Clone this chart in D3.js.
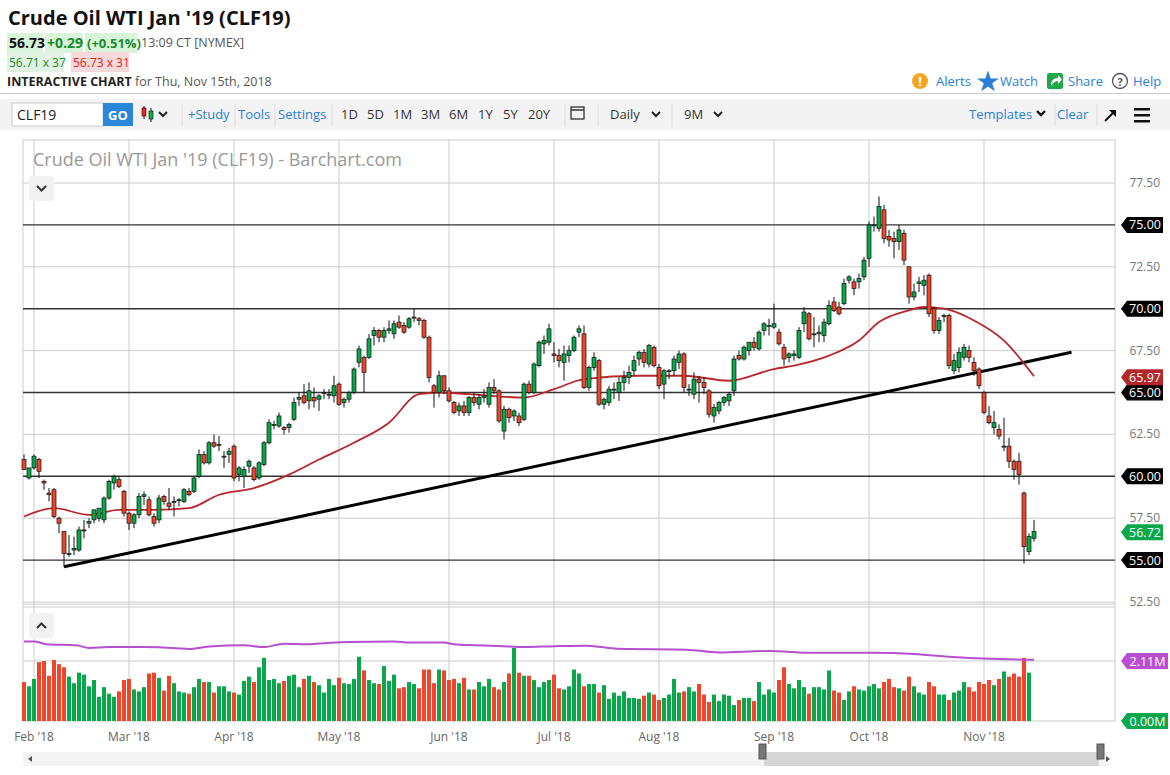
<!DOCTYPE html>
<html><head><meta charset="utf-8">
<script src="https://cdn.jsdelivr.net/npm/d3@7"></script>
<style>
body{margin:0;background:#fff;font-family:"Open Sans",sans-serif;}
svg{display:block}
</style></head><body>
<svg id="c" width="1170" height="775"></svg>
<script>
// ---- DATA ----
const candles = [
[61.0,61.3,60.4,60.4],[59.9,60.5,59.8,60.5],[60.5,61.3,60.4,61.2],[61.0,61.1,59.9,60.3],[59.7,59.8,59.2,59.6],
[59.0,59.3,58.5,58.9],[59.2,59.3,57.5,57.6],[57.5,57.6,56.6,57.2],[56.7,56.7,54.6,55.4],[55.4,56.5,55.2,55.4],
[55.6,56.4,55.3,55.7],[55.6,57.0,55.5,56.8],[56.8,57.4,56.3,56.8],[57.2,57.5,56.9,57.3],[57.4,58.0,57.2,58.0],
[57.5,58.1,57.3,58.1],[57.4,58.8,57.2,58.7],[58.7,59.8,58.6,59.7],[59.6,60.1,59.2,60.0],[59.8,60.0,59.3,59.4],
[59.1,59.2,57.6,57.8],[57.8,57.9,56.8,57.2],[57.2,57.8,56.9,57.7],[57.7,59.0,57.5,58.8],[58.8,59.1,58.3,58.9],
[58.6,58.8,57.6,57.7],[57.6,57.8,57.0,57.2],[57.4,58.9,57.2,58.7],[58.8,58.9,58.3,58.5],[58.4,59.3,58.0,58.2],
[58.5,58.8,57.6,58.5],[58.6,58.7,58.2,58.6],[58.5,59.3,58.4,59.2],[59.1,59.3,58.8,58.9],[59.1,60.0,59.0,59.9],
[60.0,61.6,59.9,61.3],[61.3,61.5,60.7,60.8],[60.8,62.1,60.7,62.0],[62.0,62.5,61.7,61.8],[61.9,62.4,61.5,61.9],
[61.2,61.5,60.5,61.2],[61.3,61.7,60.8,61.5],[61.8,61.9,59.7,59.9],[60.1,60.6,59.7,60.5],[60.0,60.6,59.3,60.4],
[60.6,61.0,60.2,60.9],[60.5,60.6,59.7,59.8],[59.9,60.9,59.8,60.8],[60.7,62.1,60.6,62.0],[62.0,63.4,61.9,63.2],
[63.1,63.3,62.8,63.1],[63.0,63.8,62.9,63.6],[62.9,63.0,62.5,62.8],[62.9,63.2,62.6,63.1],[63.4,64.7,63.3,64.4],
[64.6,65.0,64.2,64.7],[64.8,65.5,64.3,64.4],[64.5,65.6,64.0,65.1],[64.7,65.3,64.1,64.5],[64.6,64.9,63.9,64.8],
[65.0,65.2,64.6,65.0],[64.9,65.2,64.6,64.9],[64.8,66.0,64.4,65.4],[65.5,65.6,64.2,64.3],[64.4,64.7,64.1,64.6],
[64.6,65.1,64.4,65.0],[65.0,66.5,64.9,66.4],[66.8,67.8,66.5,67.6],[67.1,67.2,65.0,66.2],[67.1,68.5,67.0,68.2],
[68.4,68.9,67.8,68.7],[68.7,68.8,68.0,68.3],[68.3,68.9,68.0,68.7],[68.7,69.3,68.5,68.8],[68.5,69.3,68.2,69.1],
[69.2,69.6,68.8,68.9],[69.0,69.2,68.5,68.6],[68.9,69.5,68.8,69.4],[69.5,70.0,69.2,69.5],[69.4,69.5,69.0,69.3],
[69.3,69.4,68.2,68.3],[68.3,68.4,65.6,65.9],[65.4,65.5,64.1,65.0],[65.0,66.3,64.7,66.0],[66.0,66.0,64.9,65.1],
[65.1,65.3,64.4,64.5],[64.4,64.5,63.7,63.8],[63.9,64.4,63.6,64.2],[64.2,64.5,63.6,63.8],[63.8,64.8,63.6,64.7],
[64.7,65.0,64.2,64.4],[64.3,64.9,64.0,64.7],[64.7,65.2,64.4,64.8],[64.3,65.6,64.1,65.3],[65.3,65.8,64.9,65.1],
[65.1,65.2,63.2,63.3],[62.7,64.2,62.2,64.0],[64.0,64.1,63.2,63.5],[63.6,64.0,63.3,63.9],[63.6,63.8,63.0,63.2],
[63.4,65.6,63.3,65.5],[65.5,65.7,64.9,65.0],[65.0,66.8,64.9,66.7],[66.6,68.1,66.5,68.0],[67.9,68.4,67.3,68.1],
[68.0,69.1,67.8,68.8],[67.3,68.0,66.8,67.2],[67.2,67.6,66.5,66.9],[66.8,67.8,65.7,67.3],[67.2,67.8,66.8,67.5],
[67.5,68.4,67.4,68.3],[68.6,69.0,68.3,68.8],[68.5,69.0,65.2,65.3],[65.3,66.6,65.1,66.5],[66.5,67.4,66.3,67.1],
[66.9,67.0,64.2,64.3],[64.3,64.7,64.0,64.6],[64.4,65.4,64.2,65.2],[65.2,65.6,64.6,65.2],[65.0,65.9,64.5,65.6],
[65.6,66.3,65.1,65.9],[65.9,66.6,65.5,66.2],[66.3,67.2,66.0,66.9],[67.0,67.5,66.6,67.4],[67.4,67.6,66.5,66.8],
[66.7,67.9,66.5,67.8],[67.7,67.8,66.5,66.6],[66.5,66.7,65.2,65.4],[65.5,66.4,64.6,66.3],[66.3,66.4,65.8,66.3],
[66.3,67.2,66.0,67.0],[66.8,67.5,66.4,67.3],[67.3,67.4,65.0,65.3],[65.2,65.5,64.8,65.2],[64.9,66.2,64.6,65.8],
[65.8,66.0,64.4,65.6],[65.6,65.9,64.9,65.3],[65.1,65.2,63.5,63.7],[63.6,64.3,63.2,64.1],[63.9,64.5,63.7,64.4],
[64.4,64.8,64.2,64.7],[64.5,65.0,64.2,64.9],[65.1,67.2,64.8,67.0],[67.2,67.5,66.9,67.0],[67.0,67.8,66.9,67.7],
[67.5,68.0,67.2,68.0],[68.0,68.3,67.5,67.7],[67.6,68.7,67.5,68.6],[68.7,69.2,68.4,69.1],[69.0,69.4,68.4,69.0],
[68.9,70.3,68.8,69.1],[68.6,68.8,67.8,67.9],[67.7,67.9,66.6,67.0],[67.1,67.4,66.8,67.3],[67.2,67.5,66.9,67.3],
[67.1,68.9,67.0,68.7],[69.1,70.1,68.6,69.8],[69.7,69.8,68.1,68.2],[68.5,69.5,67.7,68.5],[68.5,69.0,68.0,68.6],
[68.4,69.4,68.0,69.2],[69.1,70.5,69.0,70.2],[70.4,70.7,69.8,69.9],[70.1,70.4,69.6,69.7],[70.3,71.8,70.2,71.5],
[71.7,72.0,71.5,71.9],[71.6,71.8,70.8,71.2],[71.6,72.1,71.2,71.8],[71.9,73.1,71.7,72.9],[73.0,75.2,72.5,75.0],
[75.0,75.5,74.6,75.0],[74.8,76.7,74.6,76.1],[75.9,76.2,73.9,74.2],[74.3,74.7,73.7,74.1],[74.2,74.6,73.0,74.0],
[74.0,75.0,73.5,74.7],[74.5,74.7,72.6,72.9],[72.5,72.5,70.3,70.7],[70.7,71.5,70.5,71.0],[71.5,71.9,71.0,71.6],
[71.4,72.0,70.8,71.7],[72.0,72.1,69.5,69.7],[70.0,70.1,68.5,68.7],[68.7,69.5,68.5,69.3],[69.6,69.7,69.2,69.6],
[69.6,69.7,66.4,66.6],[66.3,67.3,66.1,66.9],[66.5,67.7,66.2,67.4],[67.1,67.9,66.9,67.7],[67.5,67.8,66.8,67.1],
[66.8,67.1,66.0,66.3],[66.4,66.5,65.2,65.4],[65.0,65.1,63.7,63.8],[63.6,64.2,63.1,63.2],[62.9,63.9,62.5,63.2],
[62.8,63.1,62.2,62.4],[61.8,63.5,61.5,61.8],[61.8,62.3,60.5,60.9],[60.9,61.0,59.8,60.4],[60.9,61.4,59.5,60.1],
[59.0,59.1,54.8,55.8],[55.5,56.6,55.3,56.4],[56.3,57.4,56.1,56.7]
];
const volumes = [
1.37,1.22,1.48,2.07,2.11,1.59,2.15,2.00,1.89,1.56,1.33,1.70,1.63,1.22,1.44,0.85,1.19,0.96,0.85,1.04,
1.44,1.48,1.11,1.04,1.19,1.67,1.70,1.52,1.07,1.59,1.33,1.04,1.00,0.96,1.19,1.48,1.37,1.37,1.00,1.22,
1.22,1.04,1.00,0.93,1.41,1.56,1.37,1.89,2.22,1.44,1.48,1.33,1.41,1.59,1.63,1.19,1.48,1.59,1.37,1.26,
1.00,1.48,1.26,1.52,1.33,1.30,1.48,2.26,1.78,1.44,1.33,1.30,1.93,1.41,1.63,1.15,1.19,1.37,1.30,1.15,
1.81,1.81,1.33,1.81,1.78,1.44,1.48,1.33,1.52,1.11,1.11,1.37,1.22,1.48,1.19,1.11,1.37,1.67,
2.57,1.70,1.59,1.59,1.44,1.19,1.37,1.44,1.63,1.15,1.11,1.22,1.81,1.67,1.22,1.30,1.30,1.00,1.26,0.78,
1.00,0.89,1.04,0.81,0.81,0.78,0.89,1.00,0.93,0.74,0.81,0.93,1.48,1.00,1.04,1.19,1.04,1.30,0.93,0.67,
0.93,0.70,0.93,0.89,0.56,0.74,0.81,0.81,0.70,1.37,0.93,1.11,1.00,1.44,1.89,1.30,1.15,1.44,1.19,0.96,
1.19,1.19,1.11,1.78,1.07,1.00,0.74,1.04,1.22,1.11,1.07,1.22,1.30,1.15,1.37,1.48,1.19,1.15,1.07,1.56,
1.22,1.00,0.93,1.37,1.22,0.93,0.93,0.74,1.00,1.07,1.37,1.19,1.04,1.37,1.30,1.44,1.26,1.48,1.74,1.56,
1.67,1.56,2.22,1.70
];
const maPoints = [[0,57.6],[6,58.1],[13,57.7],[19,58.0],[26,58.0],[33,58.1],[39,58.9],[46,59.3],[53,60.1],[59,61.0],
[66,62.0],[73,63.2],[79,64.9],[83,65.0],[89,64.9],[100,64.7],[106,65.2],[112,65.8],[123,66.0],[132,66.0],[141,65.7],
[150,66.4],[154,66.6],[161,67.2],[167,68.1],[171,69.2],[177,69.9],[180,70.1],[184,70.0],[190,69.3],[196,68.1],[202,65.97]];
const oiPoints = [[0,2.80],[2,2.80],[4.5,2.70],[10.5,2.66],[13,2.57],[17,2.60],[24,2.60],[30.5,2.56],[33,2.53],[37,2.62],
[44,2.66],[48,2.60],[52,2.72],[57,2.70],[60.5,2.74],[65,2.78],[74,2.80],[77,2.76],[84,2.76],[86,2.70],[90.5,2.66],
[97,2.62],[100,2.60],[106,2.63],[112.5,2.65],[119,2.54],[132.5,2.51],[139,2.41],[149,2.46],[157.5,2.40],[170,2.40],
[178,2.36],[186.5,2.24],[202,2.15]];
const trendPoints = [[8,54.6],[209.5,67.4]];
const levels = [75,70,65,60,55];
const priceTicks = [77.5,72.5,67.5,62.5,57.5,52.5];
const holidays = ["2018-02-19","2018-03-30","2018-05-28","2018-07-04","2018-09-03"];
const monthLabels = ["Feb '18","Mar '18","Apr '18","May '18","Jun '18","Jul '18","Aug '18","Sep '18","Oct '18","Nov '18"];
const lastPrice = 56.72, maLast = 65.97, volLabel = "2.11M";

// ---- trading dates ----
const fmt = d3.timeFormat("%Y-%m-%d");
let dates = d3.timeDay.range(new Date(2018,0,29), new Date(2018,10,16))
  .filter(d => d.getDay()>0 && d.getDay()<6 && !holidays.includes(fmt(d)));
dates = dates.slice(dates.length - candles.length);

const svg = d3.select("#c");
const GREEN="#06a84a", RED="#f0442b";
const L=23, R=1115, T=140, PB=604, VT=607, VB=721;
const x = d3.scaleLinear().domain([0, candles.length-1]).range([24, 1034]);
const y = d3.scaleLinear().domain([52.5,77.5]).range([602,183]);
const yv = d3.scaleLinear().domain([0,2.11]).range([721,661]);
const chev = (sel,cx,cy,col,w) => sel.append("path").attr("d",`M${cx-4},${cy-2} L${cx},${cy+2} L${cx+4},${cy-2}`).attr("fill","none").attr("stroke",col||"#222").attr("stroke-width",w||2);

// ---- header ----
const hdr = svg.append("g");
hdr.append("text").attr("x",8).attr("y",25).attr("font-size",20).attr("font-weight",700).attr("fill","#111").text("Crude Oil WTI Jan '19 (CLF19)");
function tag(x0,yy,w,bg,col,txt,bold,size){
  hdr.append("rect").attr("x",x0).attr("y",yy-15).attr("width",w).attr("height",20).attr("fill",bg);
  hdr.append("text").attr("x",x0+2).attr("y",yy).attr("font-size",size||14).attr("font-weight",bold?700:400).attr("fill",col).text(txt);
}
tag(7,48,36,"#d9f5d9","#111","56.73",true);
tag(45,48,38,"#d9f5d9","#188a2e","+0.29",true);
tag(85,48,52,"#d9f5d9","#188a2e","(+0.51%)",true,13);
hdr.append("text").attr("x",141).attr("y",47).attr("font-size",12.5).attr("fill","#555").text("13:09 CT [NYMEX]");
tag(7,67,57,"#e2f2e2","#188a2e","56.71 x 37",false,12);
tag(71,67,58,"#f8d9d9","#d22","56.73 x 31",false,12);
hdr.append("text").attr("x",7).attr("y",86).attr("font-size",12.5).attr("fill","#222").html('<tspan font-weight="700">INTERACTIVE CHART</tspan><tspan fill="#555"> for Thu, Nov 15th, 2018</tspan>');
hdr.append("line").attr("x1",0).attr("x2",1170).attr("y1",93.5).attr("y2",93.5).attr("stroke","#ccc");
hdr.append("circle").attr("cx",920).attr("cy",81).attr("r",8).attr("fill","#f4a623");
hdr.append("text").attr("x",920).attr("y",86).attr("text-anchor","middle").attr("font-size",13).attr("font-weight",700).attr("fill","#fff").text("!");
hdr.append("text").attr("x",936).attr("y",86).attr("font-size",13).attr("fill","#2a7fd4").text("Alerts");
hdr.append("path").attr("d",d3.symbol(d3.symbolStar,150)()).attr("transform","translate(988,82)").attr("fill","#2a7fd4");
hdr.append("text").attr("x",1000).attr("y",86).attr("font-size",13).attr("fill","#2a7fd4").text("Watch");
hdr.append("rect").attr("x",1047).attr("y",73).attr("width",16).attr("height",16).attr("rx",2).attr("fill","#1fa84a");
hdr.append("path").attr("d","M1051,86 Q1051,78 1058,78 L1058,75 L1062,79.5 L1058,84 L1058,81 Q1054,81 1051,86Z").attr("fill","#fff");
hdr.append("text").attr("x",1068).attr("y",86).attr("font-size",13).attr("fill","#2a7fd4").text("Share");
hdr.append("circle").attr("cx",1120).attr("cy",81).attr("r",7.5).attr("fill","none").attr("stroke","#555").attr("stroke-width",1.3);
hdr.append("text").attr("x",1120).attr("y",85.5).attr("text-anchor","middle").attr("font-size",11).attr("font-weight",700).attr("fill","#555").text("?");
hdr.append("text").attr("x",1133).attr("y",86).attr("font-size",13).attr("fill","#2a7fd4").text("Help");

// toolbar
const tb = svg.append("g");
tb.append("rect").attr("x",0).attr("y",99).attr("width",1170).attr("height",31).attr("fill","#f3f3f3");
tb.append("rect").attr("x",12).attr("y",103).attr("width",91).attr("height",23).attr("fill","#fff").attr("stroke","#ccc");
tb.append("text").attr("x",17).attr("y",120).attr("font-size",14).attr("fill","#222").text("CLF19");
tb.append("rect").attr("x",103).attr("y",103).attr("width",30).attr("height",23).attr("fill","#2a86d9");
tb.append("text").attr("x",118).attr("y",120).attr("text-anchor","middle").attr("font-size",13).attr("font-weight",700).attr("fill","#fff").text("GO");
tb.append("line").attr("x1",144).attr("x2",144).attr("y1",106).attr("y2",119).attr("stroke","#111");
tb.append("line").attr("x1",151).attr("x2",151).attr("y1",108).attr("y2",122).attr("stroke","#111");
tb.append("rect").attr("x",142).attr("y",108).attr("width",4).attr("height",8).attr("fill","#e22").attr("stroke","#111").attr("stroke-width",.6);
tb.append("rect").attr("x",149).attr("y",111).attr("width",4).attr("height",8).attr("fill","#1a4").attr("stroke","#111").attr("stroke-width",.6);
chev(tb,163,114);
const sep = xx => tb.append("line").attr("x1",xx).attr("x2",xx).attr("y1",104).attr("y2",127).attr("stroke","#ddd");
[182,235,275,332,565,598,672,1055,1097].forEach(sep);
[["+Study",188],["Tools",238],["Settings",278]].forEach(([t,xx])=>tb.append("text").attr("x",xx).attr("y",119).attr("font-size",13).attr("fill","#2a7fd4").text(t));
[["1D",341],["5D",367],["1M",393],["3M",421],["6M",449],["1Y",478],["5Y",503],["20Y",528]].forEach(([t,xx])=>tb.append("text").attr("x",xx).attr("y",119).attr("font-size",13).attr("fill","#333").text(t));
tb.append("rect").attr("x",571).attr("y",107).attr("width",13).attr("height",12).attr("fill","none").attr("stroke","#333").attr("stroke-width",1.3);
tb.append("line").attr("x1",571).attr("x2",584).attr("y1",110).attr("y2",110).attr("stroke","#333").attr("stroke-width",1.5);
tb.append("text").attr("x",610).attr("y",119).attr("font-size",13).attr("fill","#333").text("Daily");
chev(tb,656,114);
tb.append("text").attr("x",684).attr("y",119).attr("font-size",13).attr("fill","#333").text("9M");
chev(tb,718,114);
tb.append("text").attr("x",969).attr("y",119).attr("font-size",13).attr("fill","#2a7fd4").text("Templates");
chev(tb,1041,113,"#111",2.4);
tb.append("text").attr("x",1057).attr("y",119).attr("font-size",13).attr("fill","#2a7fd4").text("Clear");
tb.append("line").attr("x1",1105).attr("y1",121).attr("x2",1114).attr("y2",112).attr("stroke","#111").attr("stroke-width",2);
tb.append("path").attr("d","M1109,110 L1116,110 L1116,117Z").attr("fill","#111");
[108,114,120].forEach(yy=>tb.append("rect").attr("x",1134).attr("y",yy).attr("width",16).attr("height",2.5).attr("fill","#111"));

// ---- chart frame & grid ----
const g = svg.append("g");
const monthIdx = [];
dates.forEach((d,i)=>{ if(i>0 && d.getMonth()!==dates[i-1].getMonth()) monthIdx.push(i); });
g.append("rect").attr("x",L).attr("y",T).attr("width",R-L).attr("height",VB-T).attr("fill","none").attr("stroke","#ccc");
g.selectAll(".vg").data(monthIdx).join("line").attr("x1",i=>x(i)).attr("x2",i=>x(i)).attr("y1",T).attr("y2",VB).attr("stroke","#ccc");
g.selectAll(".hg").data(priceTicks).join("line").attr("x1",L).attr("x2",R).attr("y1",d=>y(d)).attr("y2",d=>y(d)).attr("stroke","#ccc");
g.append("line").attr("x1",L).attr("x2",R).attr("y1",PB).attr("y2",PB).attr("stroke","#ccc");
g.append("line").attr("x1",L).attr("x2",R).attr("y1",VT).attr("y2",VT).attr("stroke","#ccc");
g.append("line").attr("x1",L).attr("x2",R).attr("y1",yv(2.11)).attr("y2",yv(2.11)).attr("stroke","#ccc");
g.selectAll(".lv").data(levels).join("line").attr("x1",L).attr("x2",R).attr("y1",d=>y(d)).attr("y2",d=>y(d)).attr("stroke","#333").attr("stroke-width",1.4);

g.selectAll(".ml").data(monthIdx).join("text").attr("x",i=>x(i)).attr("y",741).attr("text-anchor","middle")
 .attr("font-size",12).attr("fill","#666").text((i,k)=>monthLabels[k]);

g.append("text").attr("x",33).attr("y",166).attr("font-size",18).attr("fill","#999").text("Crude Oil WTI Jan '19 (CLF19) - Barchart.com");
g.append("rect").attr("x",29).attr("y",176).attr("width",25).attr("height",25).attr("rx",3).attr("fill","#f2f2f2");
g.append("path").attr("d","M37,186 L41.5,190.5 L46,186").attr("fill","none").attr("stroke","#333").attr("stroke-width",2);
g.append("rect").attr("x",29).attr("y",613).attr("width",25).attr("height",25).attr("rx",3).attr("fill","#f2f2f2");
g.append("path").attr("d","M37,628 L41.5,623.5 L46,628").attr("fill","none").attr("stroke","#333").attr("stroke-width",2);

const bw = 4;
g.selectAll(".vb").data(volumes).join("rect")
 .attr("x",(v,i)=>x(i)-bw/2).attr("y",v=>yv(v)).attr("width",bw).attr("height",v=>yv(0)-yv(v))
 .attr("fill",(v,i)=> candles[i][3]>=candles[i][0]?GREEN:RED);
g.append("path").datum(oiPoints).attr("fill","none").attr("stroke","#b84fd0").attr("stroke-width",2)
 .attr("d",d3.line().x(d=>x(d[0])).y(d=>yv(d[1])).curve(d3.curveMonotoneX));

g.append("path").datum(trendPoints).attr("stroke","#000").attr("stroke-width",3).attr("fill","none")
 .attr("d",d3.line().x(d=>x(d[0])).y(d=>y(d[1])));
g.append("path").datum(maPoints).attr("fill","none").attr("stroke","#b8272b").attr("stroke-width",1.8)
 .attr("d",d3.line().x(d=>x(d[0])).y(d=>y(d[1])).curve(d3.curveMonotoneX));

const cg = g.append("g");
candles.forEach((c,i)=>{
  const [o,h,l,cl]=c, up=cl>=o, xx=x(i);
  cg.append("line").attr("x1",xx).attr("x2",xx).attr("y1",y(h)).attr("y2",y(l)).attr("stroke","#111").attr("stroke-width",1);
  const top=y(Math.max(o,cl)), bot=y(Math.min(o,cl));
  cg.append("rect").attr("x",xx-2).attr("y",top).attr("width",4).attr("height",Math.max(bot-top,1))
    .attr("fill",up?GREEN:RED).attr("stroke","#111").attr("stroke-width",0.7);
});

g.selectAll(".pt").data(priceTicks).join("text").attr("x",1160).attr("y",d=>y(d)+4).attr("text-anchor","end")
 .attr("font-size",12).attr("fill","#777").text(d=>d.toFixed(2));
function rtag(yy,bg,txt,w){
  w=w||36;
  g.append("path").attr("d",`M1121,${yy} L1127,${yy-8} L${1127+w},${yy-8} L${1127+w},${yy+8} L1127,${yy+8} Z`).attr("fill",bg);
  g.append("text").attr("x",1127+w/2).attr("y",yy+4.5).attr("text-anchor","middle").attr("font-size",12.5).attr("fill","#fff").text(txt);
}
levels.forEach(v=>rtag(y(v),"#000",v.toFixed(2)));
rtag(y(maLast)+1,"#b3262c",maLast.toFixed(2));
rtag(y(lastPrice)+1,"#0aa84a",lastPrice.toFixed(2));
rtag(yv(2.11),"#b84fd0",volLabel,41);
rtag(yv(0),"#0aa84a","0.00M",41);

g.append("rect").attr("x",23).attr("y",752).attr("width",1085).attr("height",14).attr("fill","#f4f4f4");
g.append("rect").attr("x",764).attr("y",752).attr("width",335).attr("height",14).attr("fill","#d6d6d6");
[759,1097].forEach(xx=>g.append("rect").attr("x",xx).attr("y",744).attr("width",7).attr("height",15).attr("fill","#777").attr("stroke","#555"));
g.append("path").attr("d","M28,759 L32,756 L32,762Z").attr("fill","#555");
g.append("path").attr("d","M1110,759 L1106,756 L1106,762Z").attr("fill","#555");
</script></body></html>
